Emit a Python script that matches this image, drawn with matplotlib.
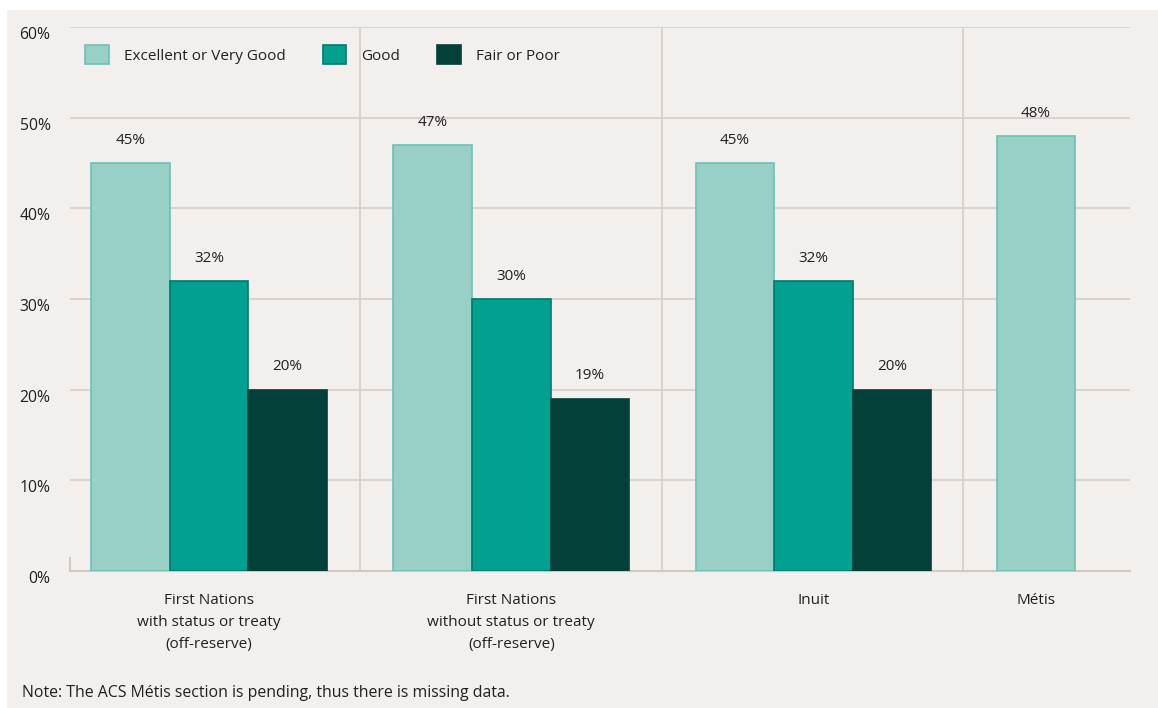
import matplotlib.pyplot as plt
from matplotlib.patches import Rectangle

# data
groups = ["First Nations\nwith status or treaty\n(off-reserve)",
          "First Nations\nwithout status or treaty\n(off-reserve)",
          "Inuit",
          "Métis"]
series = ["Excellent or Very Good", "Good", "Fair or Poor"]
excellent = [45, 47, 45, 48]
good = [32, 30, 32, None]
fair = [20, 19, 20, None]
yticks = [0, 10, 20, 30, 40, 50, 60]
note = "Note: The ACS Métis section is pending, thus there is missing data."

fills = ["#98d0c6", "#00a190", "#024039"]
edges = ["#6cc2b4", "#007a6d", "#024039"]
bg = "#f3efec"
grid_c = "#d6d1cc"
txt_c = "#231f20"

plt.rcParams['font.family'] = ['Open Sans', 'DejaVu Sans']

fig = plt.figure(figsize=(11.58, 7.08), dpi=100, facecolor="white")
fig.patches.append(Rectangle((7 / 1158, 0), 1, 1 - 10 / 708, transform=fig.transFigure,
                             facecolor=bg, edgecolor="none", zorder=-10))
ax = fig.add_axes([70 / 1158, 1 - 571 / 708, (1130 - 70) / 1158, (571 - 27) / 708])
ax.set_facecolor(bg)

# group centres in bar-width units; Métis has only one bar so sits in a narrow slot
centres = [0, 3.85, 7.7, 10.53]
separators = [1.92, 5.77, 9.6]
width = 1.0

for s, vals in enumerate([excellent, good, fair]):
    for g, v in enumerate(vals):
        if v is None:
            continue
        n = sum(1 for arr in [excellent, good, fair] if arr[g] is not None)
        x = centres[g] + (s - (n - 1) / 2) * width
        ax.bar(x, v, width=width, color=fills[s], edgecolor=edges[s], linewidth=1.2,
               zorder=3, label=series[s] if g == 0 else None)
        ax.annotate(f"{v}%", (x, v), xytext=(0, 11), textcoords="offset points",
                    ha="center", va="bottom", fontsize=11, color=txt_c)

ax.set_xlim(-1.77, 11.73)
ax.set_ylim(0, 60)
ax.set_yticks(yticks)
ax.set_yticklabels([f"{t}%" for t in yticks], fontsize=11.3, color=txt_c, va="top")
ax.tick_params(axis="y", length=0, pad=14)
for t in ax.get_yticklabels():
    t.set_horizontalalignment("right")
    t.set_y(t.get_position()[1])
ax.yaxis.grid(True, color=grid_c, linewidth=1.3, zorder=0)
ax.set_axisbelow(True)

ax.set_xticks(centres)
ax.set_xticklabels(groups, fontsize=11, color=txt_c, linespacing=1.62)
ax.tick_params(axis="x", length=0, pad=16)

for sx in separators:
    ax.axvline(sx, color=grid_c, linewidth=1.3, zorder=1)

for side in ["top", "right", "left"]:
    ax.spines[side].set_visible(False)
ax.spines["bottom"].set_color("#cfc9c4")
ax.spines["bottom"].set_linewidth(1.5)
ax.plot([-1.77, -1.77], [0, 1.4], color="#cfc9c4", linewidth=1.5, clip_on=False, zorder=2)

leg = ax.legend(loc="upper left", bbox_to_anchor=(0.0, 0.995), ncol=3, frameon=False,
                fontsize=11, handlelength=1.55, handleheight=1.55, handletextpad=1.0,
                columnspacing=2.4, borderaxespad=0.6)
for t in leg.get_texts():
    t.set_color(txt_c)

fig.text(22 / 1158, 1 - 693 / 708, note, fontsize=11.4, color=txt_c, va="center", ha="left")

fig.savefig("out.png", dpi=100, facecolor="white")
